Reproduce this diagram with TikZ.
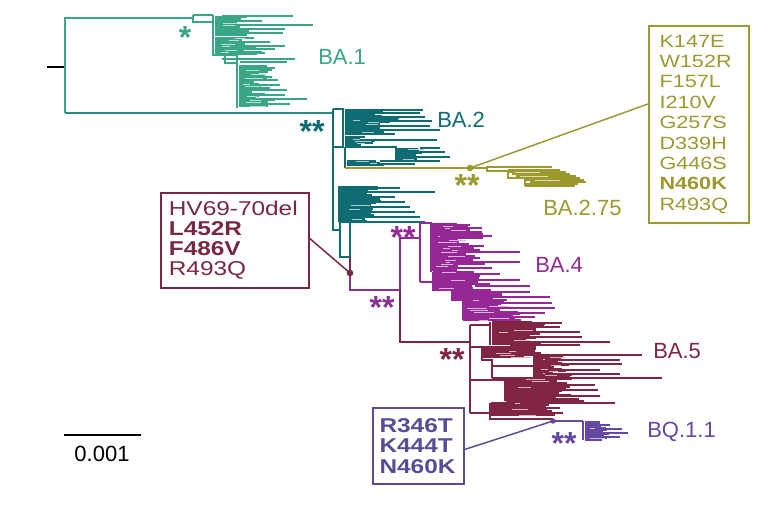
\documentclass[tikz,border=0pt]{standalone}
\usepackage{fontspec}
\setmainfont{Liberation Sans}
\newfontfamily\boxfont[FakeStretch=1.22]{Liberation Sans}
\definecolor{ba1}{RGB}{58,166,136}
\definecolor{ba2}{RGB}{14,108,114}
\definecolor{olv}{RGB}{156,153,46}
\definecolor{ba4}{RGB}{150,40,150}
\definecolor{ba45}{RGB}{135,50,140}
\definecolor{ba5}{RGB}{128,38,68}
\definecolor{bqc}{RGB}{100,72,162}
\definecolor{hvc}{RGB}{120,40,68}
\definecolor{bqbox}{RGB}{90,75,150}
\newcommand\cladeleaves[7]{%
  \foreach \yy in {#2,#3,...,#4}{%
    \pgfmathsetmacro\xe{#5+#6+#7*rnd}%
    \draw[leaf,#1] (#5,\yy) -- (\xe,\yy);%
    \pgfmathsetmacro\rr{rnd}%
    \ifdim\rr pt<0.4pt
      \pgfmathsetmacro\la{#5+4+rnd*#6*0.7}%
      \pgfmathsetmacro\lb{\la+6+rnd*14}%
      \draw[lite,#1!35!white] (\la,\yy) -- (\lb,\yy);%
    \fi
  }%
}
\newcommand\longleaves[2]{%
  \foreach \yy/\xa/\xb in {#2}{\draw[lng,#1] (\xa,\yy) -- (\xb,\yy);}%
}
\begin{document}
\begin{tikzpicture}[x=0.75pt,y=-0.75pt,
  leaf/.style={line width=1.5pt},
  lite/.style={line width=0.7pt},
  lng/.style={line width=1pt},
  br/.style={line width=1.4pt},
  lbl/.style={font=\fontsize{16.5pt}{18pt}\selectfont, inner sep=0pt, anchor=base west},
  sig/.style={font=\bfseries\fontsize{24pt}{24pt}\selectfont, inner sep=0pt, anchor=base},
  dotn/.style={circle, inner sep=0pt, minimum size=5pt},
  mbox/.style={line width=1.3pt, anchor=north west, inner ysep=0pt, align=left}]
\useasboundingbox (0,0) rectangle (770,513);
\fill[white] (0,0) rectangle (770,513);
\pgfmathsetseed{11}

% root
\draw[br,black] (47,67) -- (65,67);
\draw[br,ba1] (65,113) -- (65,18) -- (193,18);
\draw[br,ba1!55!ba2] (65,113) -- (333,113);

% BA.1
\draw[br,ba1] (193,15) -- (213,15) (193,15) -- (193,22) -- (213,22) (213,15) -- (213,56)
  (213,55) -- (237,55) (225,55) -- (225,63) -- (237,63) (237,55) -- (237,108);
\cladeleaves{ba1}{17}{19}{35}{215}{18}{22}
\cladeleaves{ba1}{38}{40}{54}{215}{25}{25}
\cladeleaves{ba1}{66}{68}{86}{239}{15}{22}
\cladeleaves{ba1}{88}{90}{107}{239}{12}{25}
\longleaves{ba1}{16/222/293, 21/226/262, 25/235/313, 29/240/285, 33/230/283, 42/232/270, 46/230/285, 49/240/275, 53/235/265, 59/222/295, 62/240/287, 68/245/275, 72/245/268, 77/248/272, 80/250/278, 85/250/280, 90/245/287, 95/245/285, 99/240/307, 104/245/290}

% BA.2
\draw[br,ba2] (333,109) -- (343,109) -- (343,147) -- (333,147) (333,109) -- (333,230) -- (340,230)
  (340,222) rectangle (350,257) (345,147) -- (345,168) (345,147) -- (396,147) -- (396,160);
\cladeleaves{ba2}{110}{112}{134}{345}{30}{25}
\cladeleaves{ba2}{137}{139}{145}{345}{15}{20}
\cladeleaves{ba2}{149}{151}{160}{397}{14}{14}
\cladeleaves{ba2}{161}{163}{165}{347}{28}{12}
\cladeleaves{ba2}{187}{189}{221}{338}{22}{22}
\longleaves{ba2}{110/360/423, 113/345/420, 117/370/425, 121/360/432, 126/360/430, 130/375/440, 140/360/437, 148/420/440, 152/410/445, 157/415/450, 161/380/440, 164/380/415, 188/340/400, 192/345/435, 197/350/395, 202/345/405, 207/350/410, 212/345/415, 217/350/420, 222/350/425}

% BA.2.75
\draw[br,olv] (345,168) -- (487,168) (487,166) -- (487,171) -- (508,171) (508,170) -- (508,178) -- (525,178) (525,176) -- (525,186);
\longleaves{olv}{167/487/552, 170/508/560, 172/508/566, 174/512/570, 176/516/576, 178/525/580, 180/525/584, 182/530/586, 184/525/578, 186/525/575}
\draw[lite,olv!35!white] (515,172) -- (540,172) (520,176) -- (548,176) (535,180) -- (560,180);
\node[dotn,fill=olv] (d275) at (470,168) {};

% BA.4 / BA.5 ancestor
\draw[br,ba5] (350,257) -- (350,273);
\draw[br,ba45] (350,273) -- (350,290) -- (400,290) (400,290) -- (400,238) -- (420,238);
\draw[br,ba5] (400,290) -- (400,342) -- (470,342);
\node[dotn,fill=hvc] (dhv) at (350,273) {};

% BA.4
\draw[br,ba4] (420,223) -- (420,282) (420,223) -- (431,223) -- (431,272) (420,282) -- (433,282)
  (433,272) -- (433,290) -- (452,290) -- (452,300) -- (463,300) -- (463,320);
\cladeleaves{ba4}{224}{226}{270}{432}{25}{28}
\cladeleaves{ba4}{272}{274}{290}{433}{38}{30}
\cladeleaves{ba4}{292}{294}{300}{452}{38}{22}
\cladeleaves{ba4}{302}{304}{320}{463}{35}{25}
\longleaves{ba4}{225/440/470, 228/450/482, 232/455/482, 236/440/492, 248/450/470, 252/460/520, 258/455/480, 262/450/520, 268/460/492, 280/470/520, 286/475/530, 292/480/530, 297/490/550, 303/490/552, 308/500/555, 313/495/545, 317/500/535}

% BA.5
\draw[br,ba5] (470,325) -- (470,413) (470,325) -- (490,325) (490,322) -- (490,345)
  (470,347) -- (482,347) -- (482,360) -- (492,360) -- (492,378) (492,366) -- (534,366) (534,356) -- (534,377)
  (470,380) -- (505,380) (505,379) -- (505,401) (470,413) -- (490,413) (490,403) -- (490,419) -- (553,419);
\cladeleaves{ba5}{322}{324}{345}{492}{30}{25}
\cladeleaves{ba5}{347}{349}{357}{483}{40}{25}
\cladeleaves{ba5}{357}{359}{377}{535}{18}{25}
\cladeleaves{ba5}{379}{381}{401}{506}{45}{35}
\cladeleaves{ba5}{403}{405}{415}{491}{45}{30}
\longleaves{ba5}{323/500/562, 327/500/560, 332/510/580, 337/510/582, 342/520/610, 345/510/580, 355/540/642, 360/545/620, 364/540/622, 370/550/600, 374/545/620, 378/492/662, 385/520/595, 390/520/598, 396/515/600, 403/520/615, 408/500/560}

% BQ.1.1
\draw[br,bqc] (553,421) -- (583,421) (583,421) -- (583,440);
\cladeleaves{bqc}{422}{424}{440}{585}{15}{10}
\longleaves{bqc}{425/590/610, 429/595/622, 433/590/628, 437/590/620}
\node[dotn,fill=bqc,minimum size=4pt] (dbq) at (553,421) {};

% clade labels
\node[lbl,text=ba1] (lba1) at (318,65) {BA.1};
\node[lbl,text=ba2] (lba2) at (437,128) {BA.2};
\node[lbl,text=olv] (lba275) at (543,216) {BA.2.75};
\node[lbl,text=ba4] (lba4) at (535,272) {BA.4};
\node[lbl,text=ba5] (lba5) at (653,358) {BA.5};
\node[lbl,text=bqc] (lbq) at (647,437) {BQ.1.1};

% support asterisks
\node[sig,text=ba1] (s1) at (185,49) {*};
\node[sig,text=ba2] (s2) at (312,143) {**};
\node[sig,text=olv] (s3) at (467,197) {**};
\node[sig,text=ba4] (s4) at (403,248) {**};
\node[sig,text=ba45] (s5) at (382,318) {**};
\node[sig,text=ba5] (s6) at (452,370) {**};
\node[sig,text=bqc] (s7) at (564,454) {**};

% mutation boxes
\node[mbox,draw=olv,text=olv,inner xsep=8pt,text width=59pt,minimum height=147.75pt,
  font=\boxfont\fontsize{13.3pt}{15.3pt}\selectfont] (b275) at (648,25)
  {K147E\\W152R\\F157L\\I210V\\G257S\\D339H\\G446S\\\textbf{N460K}\\R493Q};
\node[mbox,draw=hvc,text=hvc,inner xsep=6pt,text width=99pt,minimum height=71.25pt,
  font=\boxfont\fontsize{15pt}{15pt}\selectfont] (bhv) at (160,192)
  {HV69-70del\\\textbf{L452R}\\\textbf{F486V}\\R493Q};
\node[mbox,draw=bqbox,text=bqbox,inner xsep=5pt,text width=58.25pt,minimum height=57pt,
  font=\boxfont\bfseries\fontsize{15pt}{15.5pt}\selectfont] (bbq) at (372,407)
  {R346T\\K444T\\N460K};

% callouts
\coordinate (c275) at (648,104);
\coordinate (chv) at (308,237);
\coordinate (cbq) at (463,450);
\draw[line width=1.1pt,olv] (d275.center) -- (c275);
\draw[line width=1.1pt,hvc] (dhv.center) -- (chv);
\draw[line width=1.1pt,bqbox] (dbq.center) -- (cbq);

% scale bar
\coordinate (sb1) at (64,435);
\coordinate (sb2) at (141,435);
\draw[line width=2pt,black] (sb1) -- (sb2);
\node[lbl,anchor=base] (sbl) at (102,461) {0.001};
\end{tikzpicture}
\end{document}
